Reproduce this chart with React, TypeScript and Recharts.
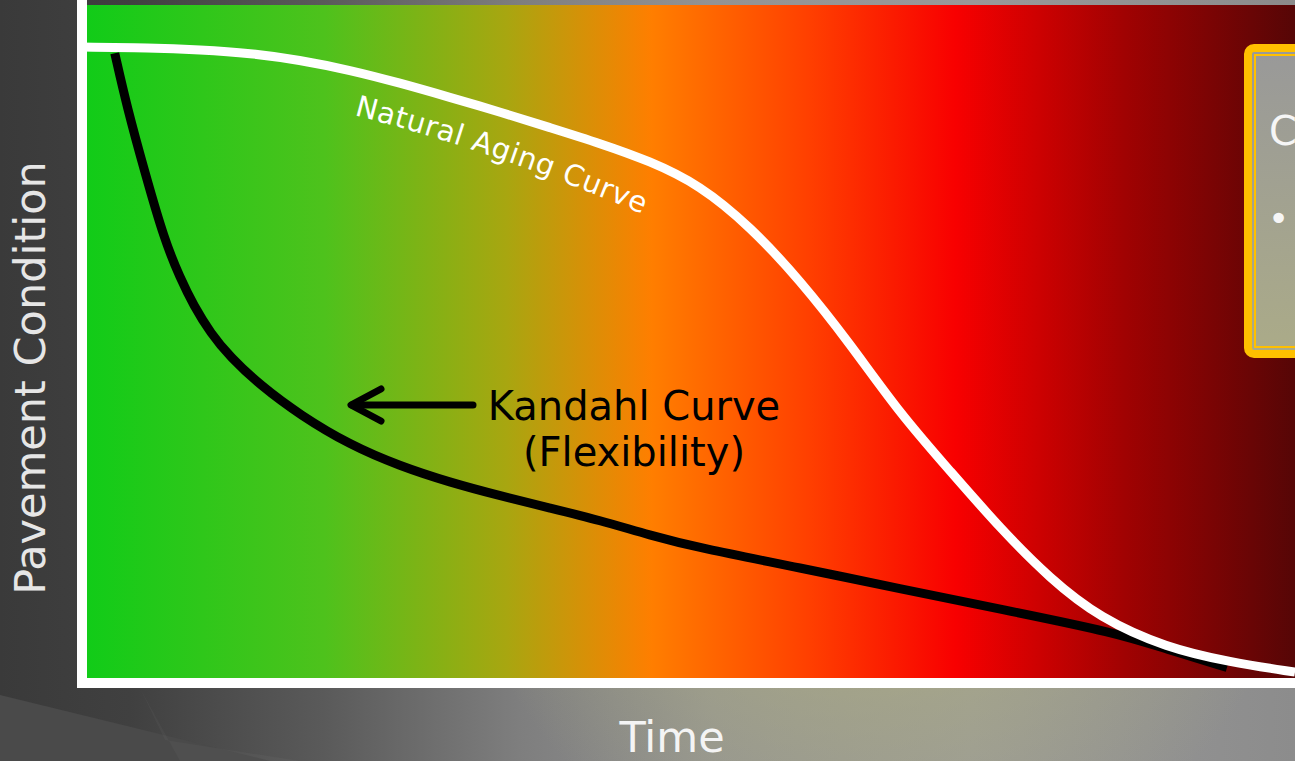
import React from "react";
import { LineChart, Line, XAxis, YAxis, ReferenceArea, ReferenceLine } from "recharts";

// Time (0-100) vs Pavement Condition (0-100)
const naturalX = [0, 5.6, 9.7, 13.9, 17.9, 22.1, 26.2, 30.3, 34.5, 38.6, 42.7, 46.8, 50.9, 55.1, 59.2, 63.3, 67.4, 71.6, 75.7, 79.8, 83.9, 89.4, 94.6, 100];
const naturalY = [93.8, 93.7, 93.4, 92.9, 91.9, 90.4, 88.5, 86.4, 84.2, 81.9, 79.6, 77.0, 73.5, 67.3, 59.4, 50.1, 39.8, 31.2, 22.8, 15.4, 9.6, 5.2, 3.1, 1.6];

const kandahlX = [2.7, 3.7, 5.2, 6.8, 8.1, 9.2, 10.6, 12.2, 14.7, 18.0, 22.1, 26.2, 30.3, 34.5, 38.6, 42.7, 46.8, 50.9, 59.2, 67.4, 75.7, 85.3, 89.4, 94.4];
const kandahlY = [92.9, 85.0, 75.2, 65.3, 59.7, 55.7, 51.6, 48.1, 43.9, 39.5, 35.1, 32.0, 29.6, 27.6, 25.8, 24.0, 21.8, 19.9, 17.0, 13.9, 10.9, 7.4, 5.0, 2.3];

const xTitle = "Time";
const yTitle = "Pavement Condition";
const naturalLabel = "Natural Aging Curve";
const kandahlLabel = ["Kandahl Curve", "(Flexibility)"];
const boxTitle = "C";
const boxBullet = "•";

const natural = naturalX.map((x, i) => ({ x, y: naturalY[i] }));
const kandahl = kandahlX.map((x, i) => ({ x, y: kandahlY[i] }));

const W = 1295;
const H = 761;
const FONT = "'DejaVu Sans', Verdana, sans-serif";

export default function App() {
  return (
    <div
      style={{
        position: "absolute",
        left: 0,
        top: 0,
        width: W,
        height: H,
        overflow: "hidden",
        background:
          "radial-gradient(ellipse 430px 430px at 880px 470px, rgba(185,185,120,0.85) 0%, rgba(175,175,125,0.45) 55%, rgba(160,160,130,0) 100%), linear-gradient(90deg, #3a3a3a 0%, #404040 10%, #5a5a5a 25%, #7e7e7e 40%, #939393 55%, #999999 75%, #8c8c8c 100%)",
      }}
    >
      <svg width={W} height={H} style={{ position: "absolute", left: 0, top: 0 }}>
        <polygon points={`0,695 270,761 0,761`} fill="#4a4a4a" />
        <polygon points={`140,688 165,740 300,761 180,761`} fill="#ffffff" fillOpacity={0.03} />
      </svg>
      <div style={{ position: "absolute", left: 0, top: 0 }}>
        <LineChart width={W} height={H} margin={{ top: 5, right: 0, bottom: 78, left: 82 }}>
          <defs>
            <linearGradient id="plotGrad" x1="0" y1="0" x2="1" y2="0">
              <stop offset="0" stopColor="#10cc18" />
              <stop offset="0.2" stopColor="#4ec21c" />
              <stop offset="0.35" stopColor="#a8a610" />
              <stop offset="0.47" stopColor="#ff7e00" />
              <stop offset="0.6" stopColor="#ff3f00" />
              <stop offset="0.72" stopColor="#f80000" />
              <stop offset="0.86" stopColor="#a00202" />
              <stop offset="1" stopColor="#560606" />
            </linearGradient>
          </defs>
          <XAxis dataKey="x" type="number" domain={[0, 100]} hide allowDataOverflow />
          <YAxis dataKey="y" type="number" domain={[0, 100]} hide allowDataOverflow />
          <ReferenceArea x1={0} x2={100} y1={0} y2={100} fill="url(#plotGrad)" fillOpacity={1} stroke="none" />
          <Line
            data={kandahl}
            dataKey="y"
            type="basis"
            stroke="#000000"
            strokeWidth={9}
            dot={false}
            activeDot={false}
            isAnimationActive={false}
          />
          <Line
            data={natural}
            dataKey="y"
            type="basis"
            stroke="#ffffff"
            strokeWidth={9}
            dot={false}
            activeDot={false}
            isAnimationActive={false}
          />
          <ReferenceLine x={0} stroke="#ffffff" strokeWidth={10} strokeLinecap="square" ifOverflow="visible" />
          <ReferenceLine y={0} stroke="#ffffff" strokeWidth={10} strokeLinecap="square" ifOverflow="visible" />
        </LineChart>
      </div>
      <svg width={W} height={H} style={{ position: "absolute", left: 0, top: 0, pointerEvents: "none" }}>
        <defs>
          <linearGradient id="boxGrad" x1="0" y1="0" x2="0" y2="1">
            <stop offset="0" stopColor="#999999" />
            <stop offset="1" stopColor="#abab88" />
          </linearGradient>
          <path id="naturalPath" d="M 354 115 Q 505 154 656 220" fill="none" />
        </defs>
        <text x={672} y={752} textAnchor="middle" fontFamily={FONT} fontSize={43} fill="#f4f4f4">
          {xTitle}
        </text>
        <text
          transform="translate(45 378) rotate(-90)"
          x={0}
          y={0}
          textAnchor="middle"
          fontFamily={FONT}
          fontSize={43}
          fill="#e6e6e6"
        >
          {yTitle}
        </text>
        <text fontFamily={FONT} fontSize={29} fill="#ffffff" letterSpacing={0.6}>
          <textPath href="#naturalPath">{naturalLabel}</textPath>
        </text>
        <g stroke="#000000" strokeWidth={7} strokeLinecap="round" strokeLinejoin="round" fill="none">
          <line x1={473} y1={405} x2={352} y2={405} />
          <polyline points="381,389 351,405 381,421" />
        </g>
        <text x={634} y={420} textAnchor="middle" fontFamily={FONT} fontSize={40} fill="#000000">
          {kandahlLabel[0]}
        </text>
        <text x={634} y={466} textAnchor="middle" fontFamily={FONT} fontSize={40} fill="#000000">
          {kandahlLabel[1]}
        </text>
        <rect x={1248} y={48} width={80} height={306} rx={6} ry={6} fill="url(#boxGrad)" stroke="#ffc000" strokeWidth={8} />
        <rect x={1255} y={55} width={70} height={292} fill="none" stroke="#ffc000" strokeWidth={2} />
        <text x={1269} y={145} fontFamily={FONT} fontSize={40} fill="#f6f6f6">
          {boxTitle}
        </text>
        <text x={1268} y={231} fontFamily={FONT} fontSize={36} fill="#f6f6f6">
          {boxBullet}
        </text>
      </svg>
    </div>
  );
}
